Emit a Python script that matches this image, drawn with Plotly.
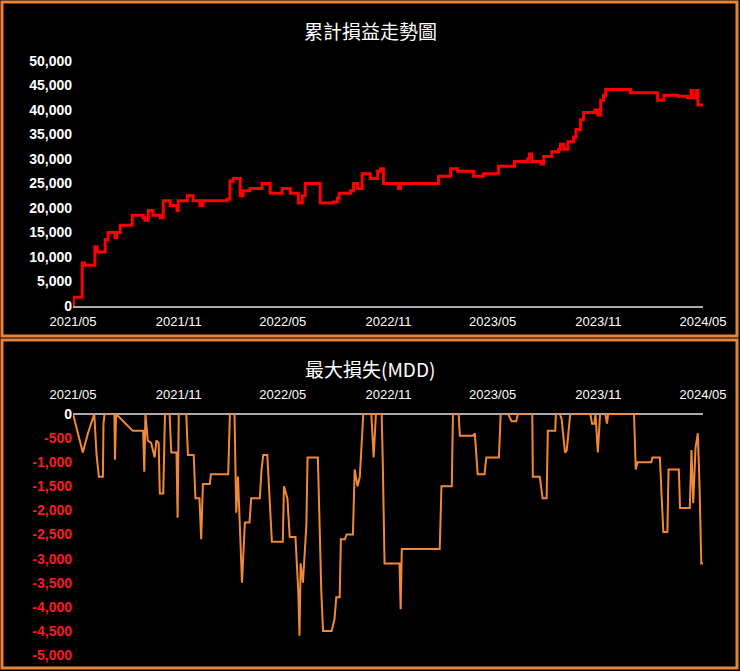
import pandas as pd
import plotly.graph_objects as go

START = "2021-05-01"
# cumulative P&L: days since start, value
pnl_days = [0,1,16,20,38,42,56,61,73,76,82,103,122,125,131,139,152,157,169,181,183,199,209,221,226,268,273,279,291,296,308,329,343,364,378,392,399,404,425,430,453,460,463,483,488,495,503,517,530,535,540,566,570,636,657,669,697,714,740,768,791,794,798,814,819,833,845,848,854,861,871,875,883,888,908,913,918,923,927,970,1017,1028,1052,1069,1075,1078,1084,1087,1096]
pnl_vals = [0,1800,8800,8300,12100,11000,13500,15000,14000,15000,16500,18500,18000,17500,19500,18500,18000,21500,20500,19500,21500,22500,21500,20500,21500,21800,25500,26000,22500,23500,24000,25000,23000,24000,23000,21000,22500,25000,25000,21000,21200,22000,23000,23500,25000,24000,27000,26000,27500,28000,25000,24000,25000,26500,28000,27500,26500,27000,28500,29500,30000,31000,29500,29000,30500,31500,32000,33000,32000,33500,34500,36000,38000,39500,40000,39000,42000,43000,44200,43500,42000,43000,42800,42500,44000,42500,44000,41000,41000]

mdd_days = [0,17,26,37,41,45,52,53,55,72,73,75,104,122,124,126,130,136,142,145,149,151,157,160,168,171,180,182,184,197,200,210,213,220,223,226,238,240,270,273,281,284,287,294,299,307,310,325,328,331,338,342,346,365,367,373,377,387,392,394,396,400,406,408,426,432,435,450,455,458,464,466,473,476,487,490,495,499,505,519,523,527,537,539,542,568,570,572,638,641,659,661,671,673,696,699,704,716,719,741,744,757,763,771,774,799,800,812,817,824,826,839,840,847,850,856,859,865,900,903,907,909,913,917,926,929,931,976,979,982,1006,1008,1021,1024,1027,1034,1036,1054,1056,1073,1076,1079,1083,1087,1090,1093,1096]
mdd_vals = [0,-800,-400,0,-850,-1300,-1300,-200,0,0,-950,0,-350,-350,-1200,0,-550,-600,-900,-550,-600,-1650,-1650,0,0,-800,-800,-2150,0,0,-850,-850,-1750,-1750,-2600,-1450,-1450,-1250,-1250,0,0,-2050,-1300,-3500,-2250,-2250,-1750,-1750,-1150,-850,-850,-1750,-2650,-2650,-1500,-1750,-2550,-2550,-3700,-4600,-3100,-3500,-2300,-900,-900,-3700,-4500,-4500,-4250,-3800,-3800,-2600,-2600,-2500,-2500,-1150,-1500,-1300,0,0,-900,0,0,-1050,-3100,-3100,-4050,-2800,-2800,-1500,-1500,0,0,-450,-450,-400,-1250,-1250,-900,-900,0,0,-150,-150,0,0,-1300,-1300,-1750,-1750,-350,-350,0,0,-100,-800,-750,0,0,-200,-200,0,-800,0,0,-200,0,0,-1150,-1000,-1000,-900,-900,-1700,-2450,-2450,-1150,-1150,-1950,-1950,-750,-1850,-700,-400,-1500,-3100,-3100]

top_ticks = [0,5000,10000,15000,20000,25000,30000,35000,40000,45000,50000]
mdd_ticks = [0,-500,-1000,-1500,-2000,-2500,-3000,-3500,-4000,-4500,-5000]

s = pd.Timestamp(START)
pnl_x = [s + pd.Timedelta(days=d) for d in pnl_days]
mdd_x = [s + pd.Timedelta(days=d) for d in mdd_days]
xr = [s, s + pd.Timedelta(days=1096)]

W, H = 740, 671
def py(p): return 1 - p / H

fig = go.Figure()
fig.add_trace(go.Scatter(x=pnl_x, y=pnl_vals, mode="lines", line=dict(color="#ff0000", width=3, shape="hv"), xaxis="x", yaxis="y"))
fig.add_trace(go.Scatter(x=mdd_x, y=mdd_vals, mode="lines", line=dict(color="#f0883a", width=2), xaxis="x2", yaxis="y2"))

font = "Liberation Sans, Arial, sans-serif"
xcommon = dict(type="date", range=xr, tick0=START, dtick="M6", tickformat="%Y/%m", showgrid=False, automargin=False,
               tickfont=dict(color="white", size=13, family=font), domain=[73/W, 703/W],
               ticks="outside", tickcolor="rgba(0,0,0,0)")
fig.update_layout(
    width=W, height=H, paper_bgcolor="black", plot_bgcolor="black", showlegend=False,
    margin=dict(l=0, r=0, t=0, b=0, autoexpand=False),
    xaxis=dict(**xcommon, ticklen=3, anchor="y", showline=True, linecolor="#aaaaaa", linewidth=1.5, zeroline=False),
    yaxis=dict(domain=[py(306), py(61)], range=[0, 50000], tickvals=top_ticks, automargin=False,
               ticktext=[f"<b>{v:,}</b>" for v in top_ticks], showgrid=False, zeroline=False,
               tickfont=dict(color="white", size=14, family=font)),
    xaxis2=dict(**xcommon, ticklen=9, anchor="y2", side="top", showline=False),
    yaxis2=dict(domain=[py(655), py(414)], range=[-5000, 0], tickvals=mdd_ticks, automargin=False,
                ticktext=["<b><span style='color:white'>0</span></b>"] + [f"<b>{v:,}</b>" for v in mdd_ticks[1:]],
                showgrid=False, zeroline=True, zerolinecolor="#aaaaaa", zerolinewidth=1.5,
                tickfont=dict(color="#ff1a1a", size=14, family=font)),
    shapes=[
        dict(type="rect", xref="paper", yref="paper", x0=2/W, x1=737/W, y0=py(336), y1=py(2), line=dict(color="#e8833a", width=3)),
        dict(type="rect", xref="paper", yref="paper", x0=2/W, x1=737/W, y0=py(668), y1=py(340), line=dict(color="#e8833a", width=3)),
    ],
    annotations=[
        dict(text="累計損益走勢圖", x=0.5, y=py(30), xref="paper", yref="paper", showarrow=False, yanchor="middle",
             font=dict(color="white", size=19, family="Noto Sans CJK TC")),
        dict(text="最大損失(MDD)", x=0.5, y=py(368), xref="paper", yref="paper", showarrow=False, yanchor="middle",
             font=dict(color="white", size=19, family="Noto Sans CJK TC")),
    ],
)
fig.write_html("out.html", config={"displayModeBar": False},
               post_script="document.body.style.margin='0';document.body.style.background='black';")
